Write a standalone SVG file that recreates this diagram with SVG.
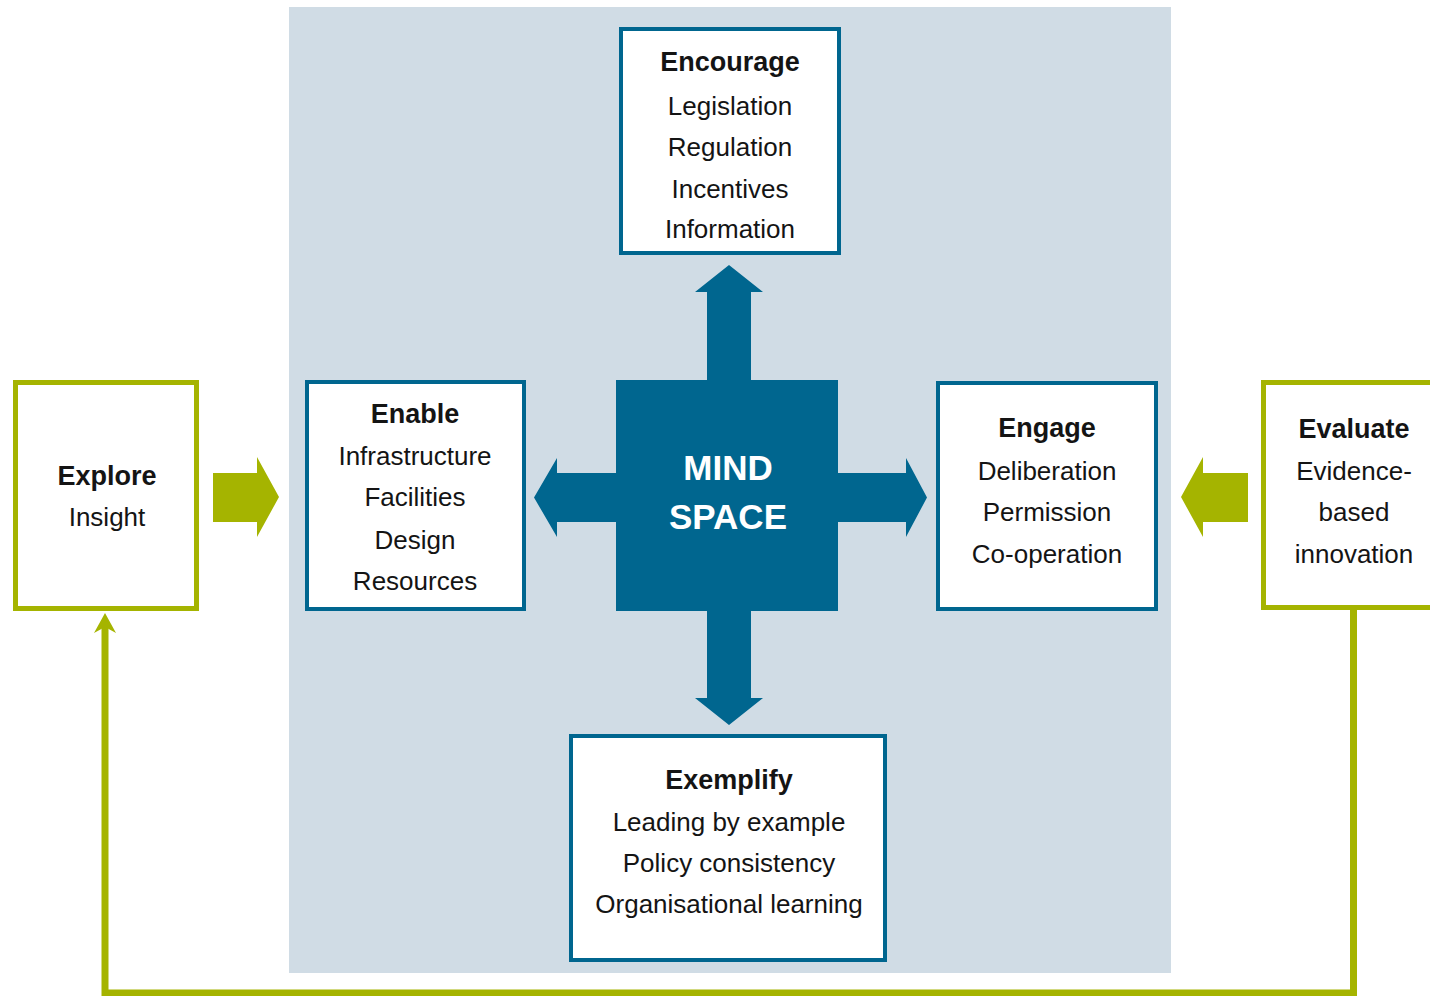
<svg xmlns="http://www.w3.org/2000/svg" width="1430" height="996" viewBox="0 0 1430 996">
  <style>
    .panel { fill: #d0dce5; }
    .box-blue { fill: #ffffff; stroke: #00668f; stroke-width: 4; }
    .box-green { fill: #ffffff; stroke: #a5b400; stroke-width: 5; }
    .hub { fill: #00668f; }
    .arrow-blue { fill: #00668f; }
    .arrow-green { fill: #a5b400; }
    .loop { fill: none; stroke: #a5b400; stroke-width: 7; stroke-linejoin: miter; }
    text { font-family: "Liberation Sans", Arial, sans-serif; fill: #141414; text-anchor: middle; }
    .head { font-size: 27px; font-weight: bold; }
    .item { font-size: 26px; }
    .hub-label { font-size: 35px; font-weight: bold; fill: #ffffff; }
  </style>

  <rect width="1430" height="996" fill="#ffffff"/>

  <!-- shaded policy panel -->
  <rect class="panel" x="289" y="7" width="882" height="966"/>

  <!-- connectors: hub arrows, side arrows and the feedback loop -->
  <g id="connectors">
    <polygon class="arrow-blue" points="707,382 707,292 695,292 729,265 763,292 751,292 751,382"/>
    <polygon class="arrow-blue" points="707,609 707,698 695,698 729,725 763,698 751,698 751,609"/>
    <polygon class="arrow-blue" points="618,473 557,473 557,458 534,497.5 557,537 557,522 618,522"/>
    <polygon class="arrow-blue" points="836,473 906,473 906,458 927,497.5 906,537 906,522 836,522"/>

    <polygon class="arrow-green" points="213,473 257,473 257,457 279,497 257,537 257,522 213,522"/>
    <polygon class="arrow-green" points="1248,473 1203,473 1203,457 1181,497 1203,537 1203,522 1248,522"/>

    <path class="loop" d="M1353.5,610 V993 H105 V626"/>
    <polygon class="arrow-green" points="105,613 116,633 105,627 94,633"/>
  </g>

  <g id="mindspace">
    <rect class="hub" x="616" y="380" width="222" height="231"/>
    <text class="hub-label" x="728" y="480">MIND</text>
    <text class="hub-label" x="728" y="529">SPACE</text>
  </g>

  <g id="encourage">
    <rect class="box-blue" x="621" y="29" width="218" height="224"/>
    <text class="head" x="730" y="71">Encourage</text>
    <text class="item" x="730" y="115">Legislation</text>
    <text class="item" x="730" y="156">Regulation</text>
    <text class="item" x="730" y="198">Incentives</text>
    <text class="item" x="730" y="238">Information</text>
  </g>

  <g id="enable">
    <rect class="box-blue" x="307" y="382" width="217" height="227"/>
    <text class="head" x="415" y="423">Enable</text>
    <text class="item" x="415" y="465">Infrastructure</text>
    <text class="item" x="415" y="506">Facilities</text>
    <text class="item" x="415" y="549">Design</text>
    <text class="item" x="415" y="590">Resources</text>
  </g>

  <g id="engage">
    <rect class="box-blue" x="938" y="383" width="218" height="226"/>
    <text class="head" x="1047" y="437">Engage</text>
    <text class="item" x="1047" y="480">Deliberation</text>
    <text class="item" x="1047" y="521">Permission</text>
    <text class="item" x="1047" y="563">Co-operation</text>
  </g>

  <g id="exemplify">
    <rect class="box-blue" x="571" y="736" width="314" height="224"/>
    <text class="head" x="729" y="789">Exemplify</text>
    <text class="item" x="729" y="831">Leading by example</text>
    <text class="item" x="729" y="872">Policy consistency</text>
    <text class="item" x="729" y="913">Organisational learning</text>
  </g>

  <g id="explore">
    <rect class="box-green" x="15.5" y="382.5" width="181" height="226"/>
    <text class="head" x="107" y="485">Explore</text>
    <text class="item" x="107" y="526">Insight</text>
  </g>

  <g id="evaluate">
    <rect class="box-green" x="1263.5" y="382.5" width="200" height="225"/>
    <text class="head" x="1354" y="438">Evaluate</text>
    <text class="item" x="1354" y="480">Evidence-</text>
    <text class="item" x="1354" y="521">based</text>
    <text class="item" x="1354" y="563">innovation</text>
  </g>
</svg>
